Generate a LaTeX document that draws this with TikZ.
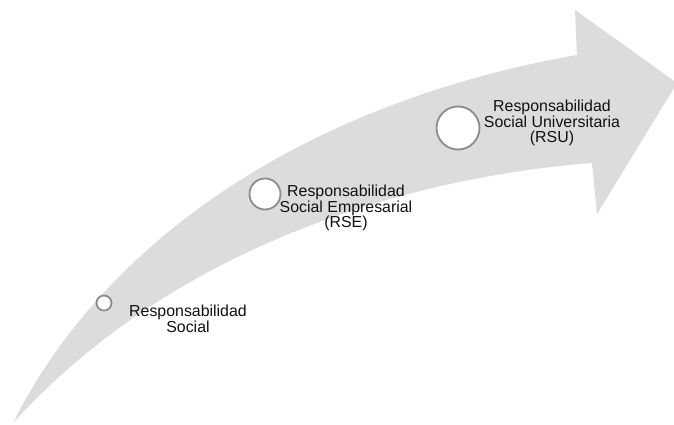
\documentclass[tikz,border=0pt]{standalone}
\usepackage{fontspec}
\setmainfont{Liberation Sans}
\definecolor{arrowgray}{HTML}{DCDCDC}
\definecolor{ringgray}{HTML}{8C8C8C}
\definecolor{textgray}{HTML}{111111}
\begin{document}
\begin{tikzpicture}[x=1pt,y=-1pt,
  ring/.style={circle,draw=ringgray,fill=white,line width=1.8pt,inner sep=0pt},
  label/.style={align=center,text=textgray,font=\fontsize{15.9}{15.6}\selectfont,inner sep=0pt}]
\useasboundingbox[fill=white] (0,0) rectangle (674,425);
\fill[arrowgray]
  (13,423) .. controls (110,230) and (320,100) .. (577,55)
  -- (575,10) -- (677,83) -- (597,214) -- (592,163)
  .. controls (400,178) and (170,250) .. (13,423)
  -- cycle;
\node[ring,minimum size=15pt] (c1) at (104,303) {};
\node[ring,minimum size=31pt] (c2) at (265,194) {};
\node[ring,minimum size=43pt] (c3) at (458,128) {};
\node[label] (t1) at (188,319) {Responsabilidad\\Social};
\node[label] (t2) at (346,208) {Responsabilidad\\Social Empresarial\\(RSE)};
\node[label] (t3) at (552,123) {Responsabilidad\\Social Universitaria\\(RSU)};
\end{tikzpicture}
\end{document}
